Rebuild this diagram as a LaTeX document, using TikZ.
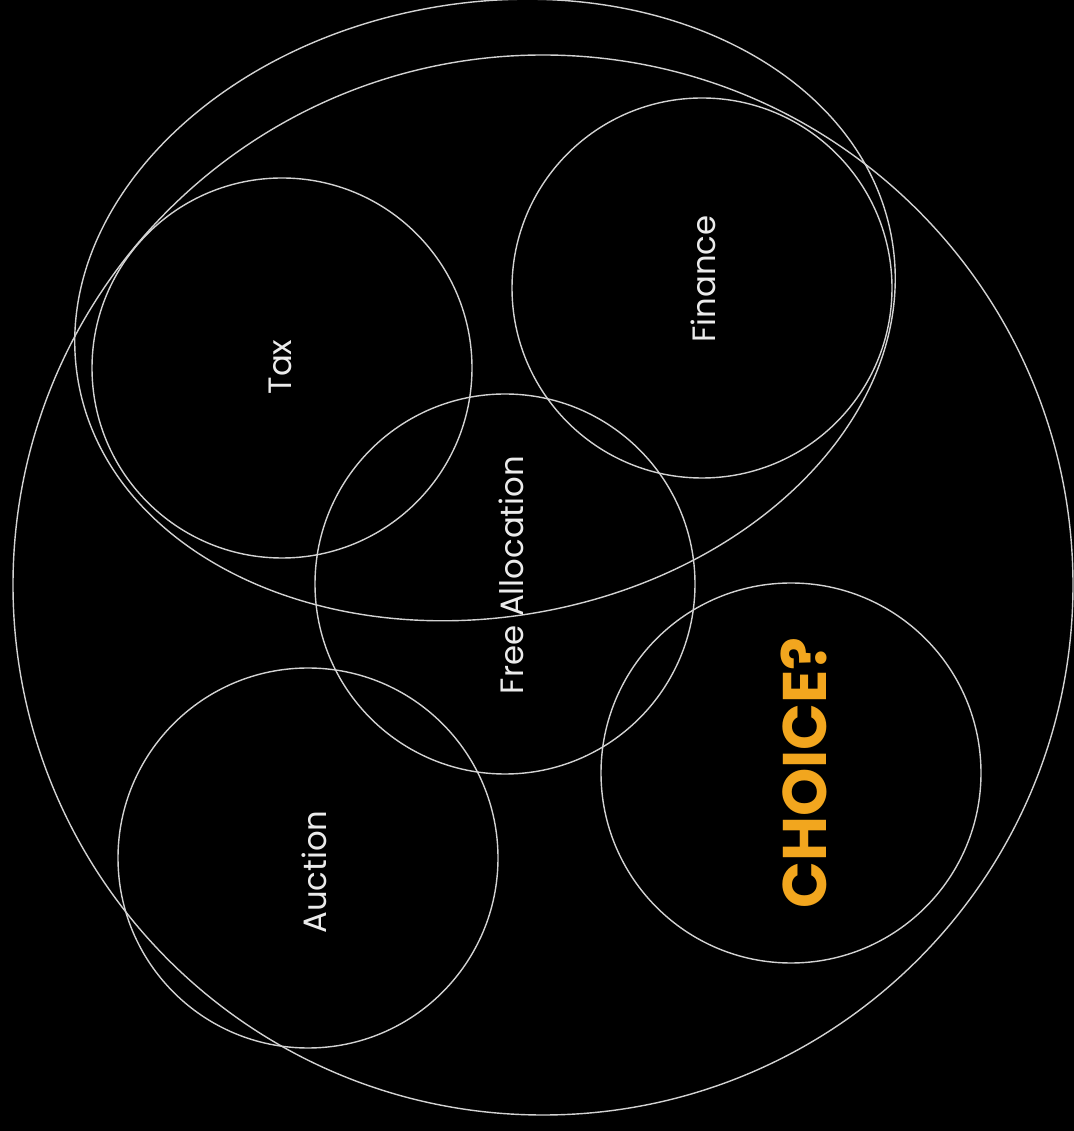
\documentclass[tikz,border=0pt]{standalone}
\usepackage{fontspec}
\setmainfont{Poppins}
\usepackage{tikz}
\usetikzlibrary{positioning,shapes.geometric}

\definecolor{choiceorange}{RGB}{242,166,30}
\definecolor{ringgray}{RGB}{210,210,210}

\begin{document}
\begin{tikzpicture}[
      ring/.style={draw=ringgray, circle, line width=0.4pt,
                   minimum size=3.8cm, inner sep=0pt},
      tag/.style={text=white!92!black, rotate=90, inner sep=0pt,
                  font=\fontsize{9.2}{11}\selectfont},
      bigtag/.style={text=choiceorange, rotate=90, inner sep=0pt,
                     font=\bfseries\fontsize{17.5}{20}\selectfont}
    ]
    % black page
    \fill[black] (0,0) rectangle (10.74,11.31);
    \useasboundingbox (0,0) rectangle (10.74,11.31);

    % outer circle and tilted ellipse
    \node[ring, minimum size=10.6cm] (all) at (5.43,5.46) {};
    \node[draw=ringgray, line width=0.4pt, ellipse, inner sep=0pt,
          minimum width=8.26cm, minimum height=6.14cm, rotate=10]
      (upper) at (4.85,8.21) {};

    % five rings
    \node[ring] (tax)  at (2.82,7.63) {};
    \node[ring] (fin)  at (7.02,8.43) {};
    \node[ring] (free) at (5.05,5.47) {};
    \node[ring] (auc)  at (3.08,2.73) {};
    \node[ring] (cho)  at (7.91,3.58) {};

    % labels
    \node[tag] (taxlbl)  at (2.80,7.64) {Tax};
    \node[tag] (finlbl)  at (7.03,8.52) {Finance};
    \node[tag] (freelbl) at (5.11,5.56) {Free Allocation};
    \node[tag] (auclbl)  at (3.14,2.59) {Auction};
    \node[bigtag] (cholbl) at (8.04,3.58) {CHOICE?};
  \end{tikzpicture}
\end{document}
